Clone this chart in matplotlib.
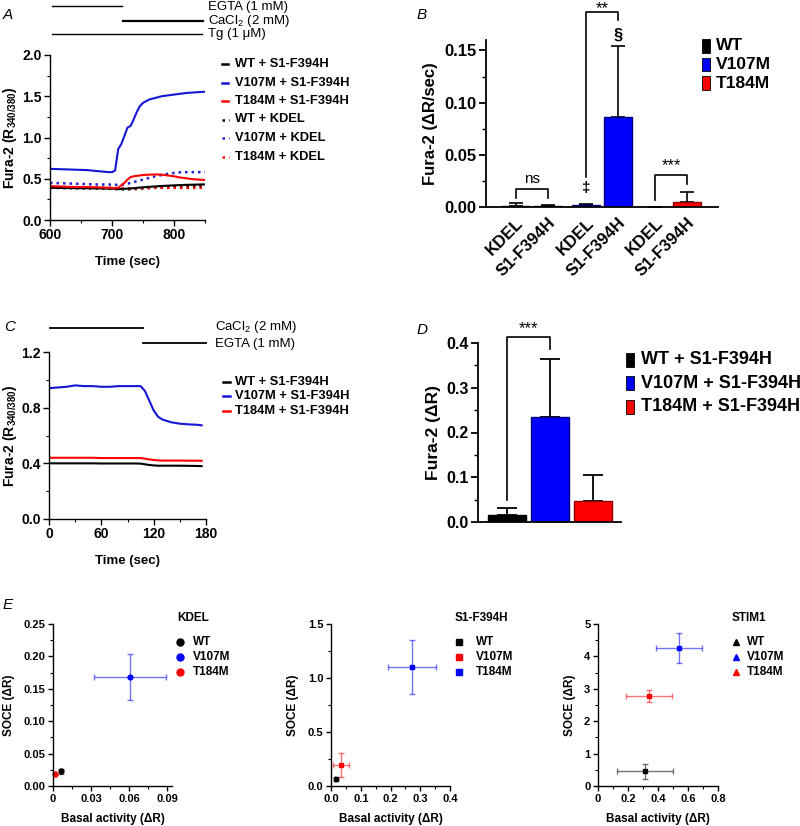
import matplotlib
matplotlib.use('Agg')
import matplotlib.pyplot as plt
from matplotlib.lines import Line2D
from matplotlib.patches import Rectangle
from matplotlib.ticker import MultipleLocator

plt.rcParams['font.family'] = ['Liberation Sans', 'DejaVu Sans']
plt.rcParams['font.weight'] = 'bold'
plt.rcParams['axes.labelweight'] = 'bold'
plt.rcParams['mathtext.fontset'] = 'custom'
plt.rcParams['mathtext.rm'] = 'Liberation Sans'
plt.rcParams['mathtext.default'] = 'regular'

# ---------------- DATA ----------------
# Panel A traces (time in sec, Fura-2 ratio)
tA = [600, 620, 640, 660, 680, 695, 700, 705, 710, 715, 720, 725, 730, 735, 740,
      745, 750, 760, 770, 780, 790, 800, 810, 820, 830, 840, 850]
A_WT_S1 = [0.39, 0.388, 0.386, 0.385, 0.383, 0.381, 0.38, 0.378, 0.375, 0.376, 0.378, 0.38, 0.383, 0.386,
           0.39, 0.393, 0.396, 0.402, 0.407, 0.412, 0.416, 0.42, 0.423, 0.426, 0.428, 0.43, 0.432]
A_V107_S1 = [0.62, 0.615, 0.61, 0.605, 0.59, 0.58, 0.58, 0.60, 0.86, 0.92, 1.02, 1.12, 1.14, 1.22,
             1.31, 1.38, 1.42, 1.46, 1.48, 1.50, 1.51, 1.52, 1.53, 1.54, 1.545, 1.55, 1.555]
A_T184_S1 = [0.41, 0.405, 0.40, 0.40, 0.395, 0.39, 0.39, 0.385, 0.39, 0.42, 0.45, 0.49, 0.52, 0.53,
             0.535, 0.54, 0.545, 0.55, 0.552, 0.55, 0.54, 0.53, 0.515, 0.505, 0.495, 0.49, 0.485]
A_WT_KDEL = [0.39, 0.388, 0.386, 0.384, 0.382, 0.38, 0.378, 0.376, 0.374, 0.373, 0.372, 0.372, 0.373, 0.375,
             0.377, 0.38, 0.383, 0.388, 0.393, 0.397, 0.40, 0.403, 0.405, 0.407, 0.408, 0.409, 0.41]
A_V107_KDEL = [0.45, 0.445, 0.44, 0.435, 0.43, 0.43, 0.428, 0.427, 0.426, 0.427, 0.43, 0.44, 0.45, 0.46,
               0.47, 0.48, 0.49, 0.51, 0.53, 0.545, 0.56, 0.57, 0.578, 0.58, 0.58, 0.58, 0.58]
A_T184_KDEL = [0.40, 0.398, 0.396, 0.394, 0.392, 0.39, 0.389, 0.388, 0.386, 0.385, 0.384, 0.383, 0.383, 0.384,
               0.385, 0.386, 0.387, 0.388, 0.389, 0.39, 0.39, 0.39, 0.39, 0.39, 0.39, 0.39, 0.39]
A_labels = ['WT + S1-F394H', 'V107M + S1-F394H', 'T184M + S1-F394H',
            'WT + KDEL', 'V107M + KDEL', 'T184M + KDEL']

# Panel B bars (ΔR/sec)
B_ticklabels = ['KDEL', 'S1-F394H', 'KDEL', 'S1-F394H', 'KDEL', 'S1-F394H']
B_values = [0.001, 0.001, 0.002, 0.086, 0.0003, 0.005]
B_err = [0.0025, 0.0006, 0.0013, 0.068, 0.0, 0.009]
B_legend = ['WT', 'V107M', 'T184M']

# Panel C traces
tC = [0, 10, 20, 30, 40, 50, 60, 70, 80, 90, 100, 105, 110, 115, 120, 125, 130, 140, 150, 160, 170, 175]
C_WT = [0.40, 0.40, 0.40, 0.40, 0.40, 0.40, 0.399, 0.399, 0.399, 0.399, 0.399, 0.398, 0.393, 0.388,
        0.385, 0.383, 0.383, 0.383, 0.383, 0.382, 0.381, 0.38]
C_V107 = [0.94, 0.945, 0.95, 0.96, 0.955, 0.955, 0.95, 0.95, 0.955, 0.955, 0.955, 0.955, 0.92, 0.85,
          0.78, 0.735, 0.715, 0.695, 0.685, 0.68, 0.677, 0.673]
C_T184 = [0.44, 0.44, 0.44, 0.44, 0.44, 0.44, 0.438, 0.438, 0.438, 0.438, 0.438, 0.438, 0.433, 0.428,
          0.424, 0.421, 0.42, 0.42, 0.42, 0.419, 0.419, 0.418]
C_labels = ['WT + S1-F394H', 'V107M + S1-F394H', 'T184M + S1-F394H']

# Panel D bars (ΔR)
D_values = [0.015, 0.234, 0.048]
D_err = [0.016, 0.131, 0.057]
D_labels = ['WT + S1-F394H', 'V107M + S1-F394H', 'T184M + S1-F394H']

# Panel E scatter (basal activity vs SOCE), order WT, V107M, T184M
E1_x = [0.0066, 0.0605, 0.0016]
E1_xerr = [0.0008, 0.0285, 0.0004]
E1_y = [0.0227, 0.168, 0.018]
E1_yerr = [0.004, 0.035, 0.001]
E2_x = [0.016, 0.034, 0.272]
E2_xerr = [0.002, 0.026, 0.08]
E2_y = [0.065, 0.195, 1.106]
E2_yerr = [0.008, 0.11, 0.25]
E3_x = [0.311, 0.338, 0.54]
E3_xerr = [0.186, 0.152, 0.155]
E3_y = [0.455, 2.77, 4.256]
E3_yerr = [0.23, 0.19, 0.47]
E_labels = ['WT', 'V107M', 'T184M']

# ---------------- FIGURE ----------------
W, H = 800, 826
fig = plt.figure(figsize=(8, 8.26), dpi=100)


def ax_px(l, t, r, b):
    return fig.add_axes([l / W, 1 - b / H, (r - l) / W, (b - t) / H])


def fig_line(x0, x1, y, **kw):
    fig.add_artist(Line2D([x0 / W, x1 / W], [1 - y / H, 1 - y / H], transform=fig.transFigure, **kw))


def fig_text(x, y, s, **kw):
    fig.text(x / W, 1 - y / H, s, **kw)


def style(ax, lw=1.0, fs=10, ml=4):
    for s in ['top', 'right']:
        ax.spines[s].set_visible(False)
    for s in ['left', 'bottom']:
        ax.spines[s].set_linewidth(lw)
    ax.tick_params(which='major', direction='out', length=ml, width=lw, labelsize=fs, pad=2)
    ax.tick_params(which='minor', direction='out', length=ml * 0.55, width=lw * 0.8)


def ylabel_px(ax, text, x_right, l, r, fs):
    """place y label so that its right edge sits at pixel x_right"""
    ax.set_ylabel(text, fontsize=fs)
    ax.yaxis.set_label_coords((x_right - l) / (r - l), 0.5)


BLUE = '#0000ff'
RED = '#ff0000'
dot = (0, (1, 1.6))

# ---------- Panel A ----------
axA = ax_px(50, 55, 205, 220)
axA.plot(tA, A_WT_KDEL, color='black', lw=1.8, ls=dot)
axA.plot(tA, A_T184_KDEL, color=RED, lw=1.8, ls=dot)
axA.plot(tA, A_V107_KDEL, color='#2020d0', lw=1.8, ls=dot)
axA.plot(tA, A_WT_S1, color='black', lw=1.5)
axA.plot(tA, A_T184_S1, color=RED, lw=1.5)
axA.plot(tA, A_V107_S1, color='#1515d5', lw=1.5)
axA.set_xlim(600, 850)
axA.set_ylim(0, 2.0)
axA.set_xticks([600, 700, 800])
axA.set_xticklabels(['600', '700', '800'])
axA.set_yticks([0, 0.5, 1.0, 1.5, 2.0])
axA.set_yticklabels(['0.0', '0.5', '1.0', '1.5', '2.0'])
axA.xaxis.set_minor_locator(MultipleLocator(50))
axA.yaxis.set_minor_locator(MultipleLocator(0.25))
style(axA, lw=1.0, fs=10)
axA.set_xlabel('Time (sec)', fontsize=9.5, labelpad=10)
ylabel_px(axA, 'Fura-2 (R$_{340/380}$)', 19, 50, 205, 10)

fig_line(52, 122, 6, color='black', lw=1.0)
fig_line(123, 203, 21, color='black', lw=1.6)
fig_line(52, 202, 34, color='black', lw=1.0)
fig_text(208, 7, 'EGTA (1 mM)', fontsize=9.5, fontweight='normal', va='center')
fig_text(208, 21, 'CaCl$_2$ (2 mM)', fontsize=9.5, fontweight='normal', va='center')
fig_text(208, 34, 'Tg (1 μM)', fontsize=9.5, fontweight='normal', va='center')
fig_text(3, 15, 'A', fontsize=11, fontweight='normal', style='italic', va='center')

leg_cols = ['black', '#1515d5', RED, 'black', '#2020d0', RED]
for i, (lab, c) in enumerate(zip(A_labels, leg_cols)):
    y = 64 + i * 18.5
    if i < 3:
        fig_line(222, 228, y, color=c, lw=1.8)
    else:
        fig_line(222, 229, y, color=c, lw=1.8, ls=dot)
    fig_text(235, y, lab, fontsize=9.3, va='center')

# ---------- Panel B ----------
axB = ax_px(486, 40, 718, 207)
B_pos = [1.03, 2.14, 3.45, 4.55, 5.83, 6.93]
B_cols = ['black', 'black', BLUE, BLUE, RED, RED]
B_edges = ['black', 'black', '#00007a', '#00007a', '#8b0000', '#8b0000']
axB.errorbar(B_pos, B_values, yerr=[[0] * 6, B_err], fmt='none', ecolor='black',
             elinewidth=1.2, capsize=5, capthick=1.2, zorder=1)
axB.bar(B_pos, B_values, width=0.97, color=B_cols, edgecolor=B_edges, linewidth=1.0, zorder=2)
axB.set_xlim(0, 8)
axB.set_ylim(0, 0.16)
axB.set_yticks([0, 0.05, 0.10, 0.15])
axB.set_yticklabels(['0.00', '0.05', '0.10', '0.15'])
axB.yaxis.set_minor_locator(MultipleLocator(0.025))
axB.set_xticks(B_pos)
axB.set_xticklabels(B_ticklabels, rotation=45, ha='right', va='top', rotation_mode='anchor')
style(axB, lw=1.3, fs=12, ml=5)
axB.tick_params(axis='x', length=0, pad=6)
ylabel_px(axB, 'Fura-2 (ΔR/sec)', 438, 486, 718, 12)

# significance brackets
bk = dict(color='black', lw=1.2, clip_on=False)
axB.plot([B_pos[0], B_pos[0], B_pos[1], B_pos[1]], [0.0086, 0.0172, 0.0172, 0.0086], **bk)
axB.text((B_pos[0] + B_pos[1]) / 2, 0.0205, 'ns', ha='center', va='bottom', fontsize=11, fontweight='normal')
axB.plot([B_pos[2], B_pos[2], B_pos[3], B_pos[3]], [0.029, 0.1864, 0.1864, 0.179], **bk)
axB.text((B_pos[2] + B_pos[3]) / 2, 0.197, '**', ha='center', va='top', fontsize=12,
         fontweight='normal', clip_on=False)
axB.text(B_pos[2], 0.0185, '‡', ha='center', va='center', fontsize=11)
axB.text(B_pos[3], 0.165, '§', ha='center', va='center', fontsize=12)
axB.plot([B_pos[4], B_pos[4], B_pos[5], B_pos[5]], [0.007, 0.031, 0.031, 0.022], **bk)
axB.text((B_pos[4] + B_pos[5]) / 2, 0.0325, '***', ha='center', va='bottom', fontsize=12, fontweight='normal')
fig_text(417, 15, 'B', fontsize=11, fontweight='normal', style='italic', va='center')

for i, (lab, c) in enumerate(zip(B_legend, ['black', BLUE, RED])):
    y = 46 + i * 18.5
    fig.add_artist(Rectangle((702 / W, 1 - (y + 6.5) / H), 8 / W, 13 / H, transform=fig.transFigure,
                             facecolor=c, edgecolor='black', lw=0.6))
    fig_text(716, y, lab, fontsize=12.5, va='center')

# ---------- Panel C ----------
axC = ax_px(49, 352, 206, 519)
axC.plot(tC, C_WT, color='black', lw=1.5)
axC.plot(tC, C_T184, color=RED, lw=1.5)
axC.plot(tC, C_V107, color='#1515d5', lw=1.5)
axC.set_xlim(0, 180)
axC.set_ylim(0, 1.2)
axC.set_xticks([0, 60, 120, 180])
axC.set_xticklabels(['0', '60', '120', '180'])
axC.set_yticks([0, 0.4, 0.8, 1.2])
axC.set_yticklabels(['0.0', '0.4', '0.8', '1.2'])
axC.xaxis.set_minor_locator(MultipleLocator(30))
axC.yaxis.set_minor_locator(MultipleLocator(0.2))
style(axC, lw=1.0, fs=10)
axC.set_xlabel('Time (sec)', fontsize=9.5, labelpad=10)
ylabel_px(axC, 'Fura-2 (R$_{340/380}$)', 19, 49, 206, 10)
fig_line(50, 143, 328, color='black', lw=1.3)
fig_line(143, 206, 343, color='black', lw=1.3)
fig_text(215, 327, 'CaCl$_2$ (2 mM)', fontsize=9.5, fontweight='normal', va='center')
fig_text(215, 344, 'EGTA (1 mM)', fontsize=9.5, fontweight='normal', va='center')
fig_text(4, 327, 'C', fontsize=11, fontweight='normal', style='italic', va='center')
for i, (lab, c) in enumerate(zip(C_labels, ['black', '#1515d5', RED])):
    y = 382 + i * 14.5
    fig_line(223, 230, y, color=c, lw=1.8)
    fig_text(235, y, lab, fontsize=9.3, va='center')

# ---------- Panel D ----------
axD = ax_px(478, 343, 621, 522)
D_pos = [0, 1.13, 2.26]
axD.errorbar(D_pos, D_values, yerr=[[0, 0, 0], D_err], fmt='none', ecolor='black',
             elinewidth=1.3, capsize=7, capthick=1.3, zorder=1)
axD.bar(D_pos, D_values, width=1.0, color=['black', BLUE, RED],
        edgecolor=['black', '#00007a', '#8b0000'], linewidth=1.0, zorder=2)
axD.set_xlim(-0.76, 3.0)
axD.set_ylim(0, 0.4)
axD.set_xticks([])
axD.set_yticks([0, 0.1, 0.2, 0.3, 0.4])
axD.set_yticklabels(['0.0', '0.1', '0.2', '0.3', '0.4'])
axD.yaxis.set_minor_locator(MultipleLocator(0.05))
style(axD, lw=1.3, fs=11.5, ml=5)
ylabel_px(axD, 'Fura-2 (ΔR)', 441, 478, 621, 12.5)
axD.plot([D_pos[0], D_pos[0], D_pos[1], D_pos[1]], [0.049, 0.414, 0.414, 0.386], color='black', lw=1.2, clip_on=False)
axD.text((D_pos[0] + D_pos[1]) / 2, 0.416, '***', ha='center', va='bottom', fontsize=12, fontweight='normal', clip_on=False)
fig_text(417, 330, 'D', fontsize=11, fontweight='normal', style='italic', va='center')
for i, (lab, c) in enumerate(zip(D_labels, ['black', BLUE, RED])):
    y = 360 + i * 23.3
    fig.add_artist(Rectangle((626 / W, 1 - (y + 7) / H), 8 / W, 14 / H, transform=fig.transFigure,
                             facecolor=c, edgecolor='black', lw=0.6))
    fig_text(641, y, lab, fontsize=13, va='center')


# ---------- Panel E ----------
def e_panel(l, r, xs, xe, ys, ye, cols, mk, xlim, xt, xtl, xmin, ylim, yt, ytl, ymin,
            title, legcols, legmk, tx, mx, lx):
    ax = ax_px(l, 624, r, 786)
    for x, dx, y, dy, c in zip(xs, xe, ys, ye, cols):
        ax.errorbar([x], [y], xerr=[dx], yerr=[dy], fmt='none', ecolor=c, alpha=0.55,
                    elinewidth=1.0, capsize=2, capthick=1.0, zorder=1)
        ax.plot([x], [y], marker=mk, color=c, ms=3.5, ls='none', zorder=2, clip_on=False)
    ax.set_xlim(*xlim)
    ax.set_ylim(*ylim)
    ax.set_xticks(xt)
    ax.set_xticklabels(xtl)
    ax.set_yticks(yt)
    ax.set_yticklabels(ytl)
    ax.xaxis.set_minor_locator(MultipleLocator(xmin))
    ax.yaxis.set_minor_locator(MultipleLocator(ymin))
    style(ax, lw=1.0, fs=8, ml=3.5)
    ax.set_xlabel('Basal activity (ΔR)', fontsize=8.5, labelpad=7)
    ax.set_ylabel('SOCE (ΔR)', fontsize=8.5, labelpad=6)
    fig_text(tx, 618, title, fontsize=8.5, va='center')
    for i, (lab, c) in enumerate(zip(E_labels, legcols)):
        y = 642 + i * 15
        fig.add_artist(Line2D([mx / W], [1 - y / H], marker=legmk, color=c, ms=5, ls='none',
                              transform=fig.transFigure))
        fig_text(lx, y, lab, fontsize=8.5, va='center')
    return ax


e_panel(53, 172, E1_x, E1_xerr, E1_y, E1_yerr, ['black', BLUE, RED], 'o',
        (0, 0.094), [0, 0.03, 0.06, 0.09], ['0', '0.03', '0.06', '0.09'], 0.015,
        (0, 0.25), [0, 0.05, 0.10, 0.15, 0.20, 0.25], ['0.00', '0.05', '0.10', '0.15', '0.20', '0.25'], 0.025,
        'KDEL', ['black', BLUE, RED], 'o', 177, 180, 193)
e_panel(331, 450, E2_x, E2_xerr, E2_y, E2_yerr, ['black', RED, BLUE], 's',
        (0, 0.4), [0, 0.1, 0.2, 0.3, 0.4], ['0.0', '0.1', '0.2', '0.3', '0.4'], 0.05,
        (0, 1.5), [0, 0.5, 1.0, 1.5], ['0.0', '0.5', '1.0', '1.5'], 0.25,
        'S1-F394H', ['black', RED, BLUE], 's', 455, 459, 476)
e_panel(598, 718, E3_x, E3_xerr, E3_y, E3_yerr, ['black', RED, BLUE], 's',
        (0, 0.8), [0, 0.2, 0.4, 0.6, 0.8], ['0', '0.2', '0.4', '0.6', '0.8'], 0.1,
        (0, 5), [0, 1, 2, 3, 4, 5], ['0', '1', '2', '3', '4', '5'], 0.5,
        'STIM1', ['black', BLUE, RED], '^', 732, 736, 747)
fig_text(3, 605, 'E', fontsize=11, fontweight='normal', style='italic', va='center')

fig.savefig('out.png', dpi=100)
